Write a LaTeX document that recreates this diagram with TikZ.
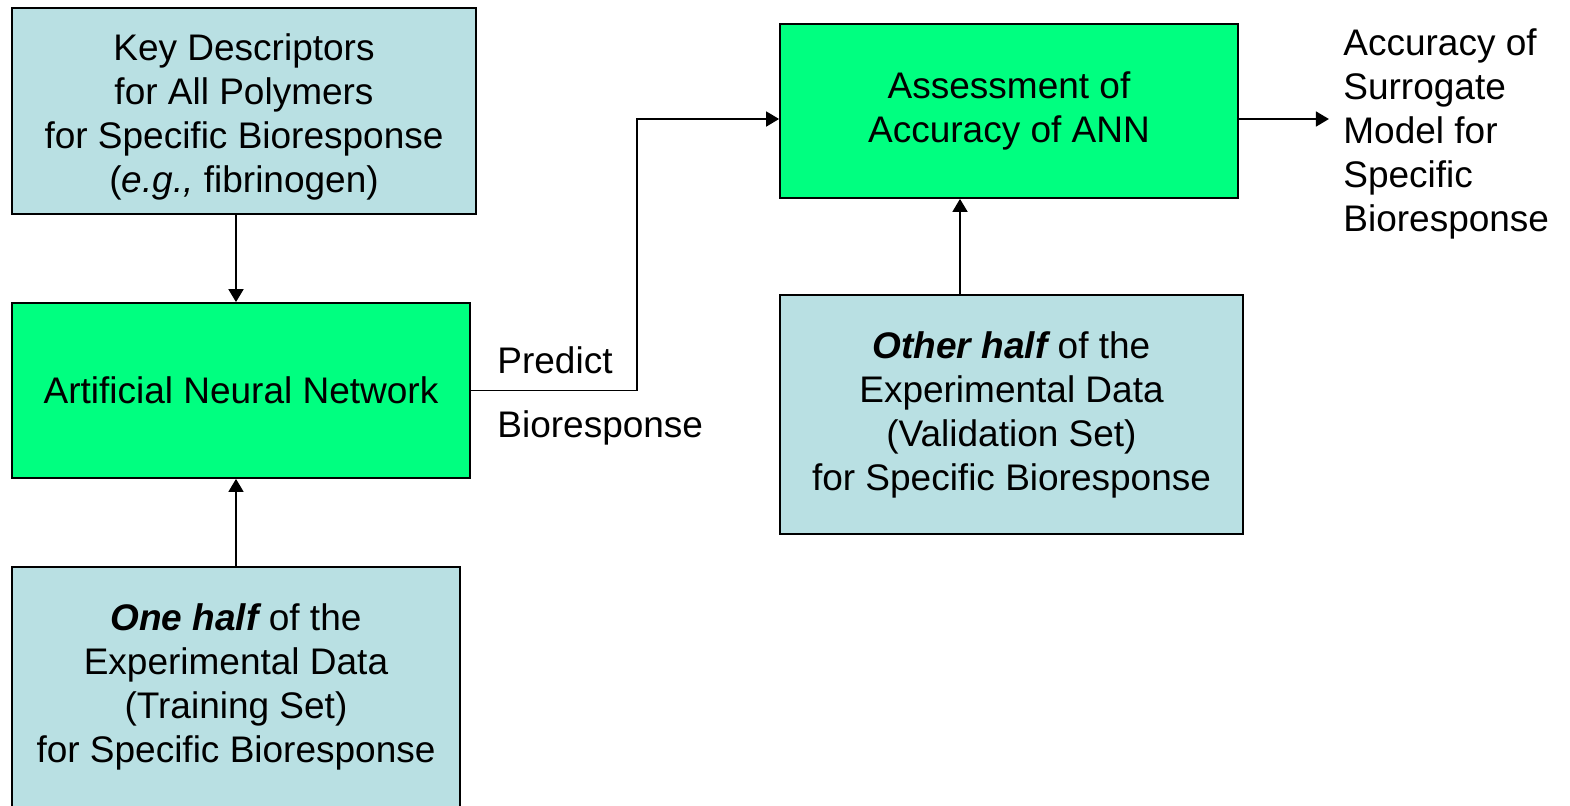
\documentclass[tikz,border=0pt]{standalone}
\usepackage{fontspec}
\setmainfont{Liberation Sans}
\usetikzlibrary{arrows.meta}
\definecolor{databox}{RGB}{185,224,227}
\definecolor{netbox}{RGB}{0,255,128}
\begin{document}
\begin{tikzpicture}[x=0.5pt,y=-0.5pt,
    font=\fontsize{18.5}{22}\selectfont,
    blockbox/.style={draw, line width=0.9pt, align=center, inner sep=0pt},
    arr/.style={-{Triangle[width=7.5pt,length=6.5pt]}, line width=0.9pt}]
  \clip (0,0) rectangle (1570,805);
  \useasboundingbox (0,0) rectangle (1570,805);

  \node[blockbox, fill=databox, minimum width=232pt, minimum height=103pt] (key) at (244,111)
    {\\[-3pt]Key Descriptors\\for All Polymers\\for Specific Bioresponse\\(\textit{e.g.,} fibrinogen)};
  \node[blockbox, fill=netbox, minimum width=229pt, minimum height=87.5pt] (ann) at (241,390.5)
    {Artificial Neural Network};
  \node[blockbox, fill=databox, minimum width=224pt, minimum height=120pt] (onehalf) at (236,687)
    {{\bfseries\itshape One half} of the\\Experimental Data\\(Training Set)\\for Specific Bioresponse};
  \node[blockbox, fill=netbox, minimum width=229pt, minimum height=87pt] (assess) at (1009,111)
    {Assessment of\\Accuracy of ANN};
  \node[blockbox, fill=databox, minimum width=231.5pt, minimum height=119.5pt] (otherhalf) at (1011.5,414.5)
    {{\bfseries\itshape Other half} of the\\Experimental Data\\(Validation Set)\\for Specific Bioresponse};

  \node[anchor=west, align=left, inner sep=0pt] (predict) at (497,396) {Predict\\[10pt]Bioresponse};
  \node[anchor=west, align=left, inner sep=0pt] (acc) at (1343,134)
    {Accuracy of\\Surrogate\\Model for\\Specific\\Bioresponse};

  \draw[arr] (key.south -| onehalf.north) -- (ann.north -| onehalf.north);
  \draw[arr] (onehalf.north) -- (onehalf.north |- ann.south);
  \draw[arr] (ann.east) -- ++(166,0) |- ([yshift=-4pt]assess.west);
  \draw[arr] ([xshift=-25.75pt]otherhalf.north) -- ([xshift=-25.75pt]otherhalf.north |- assess.south);
  \draw[arr] ([yshift=-4pt]assess.east) -- ++(90,0);
\end{tikzpicture}
\end{document}
